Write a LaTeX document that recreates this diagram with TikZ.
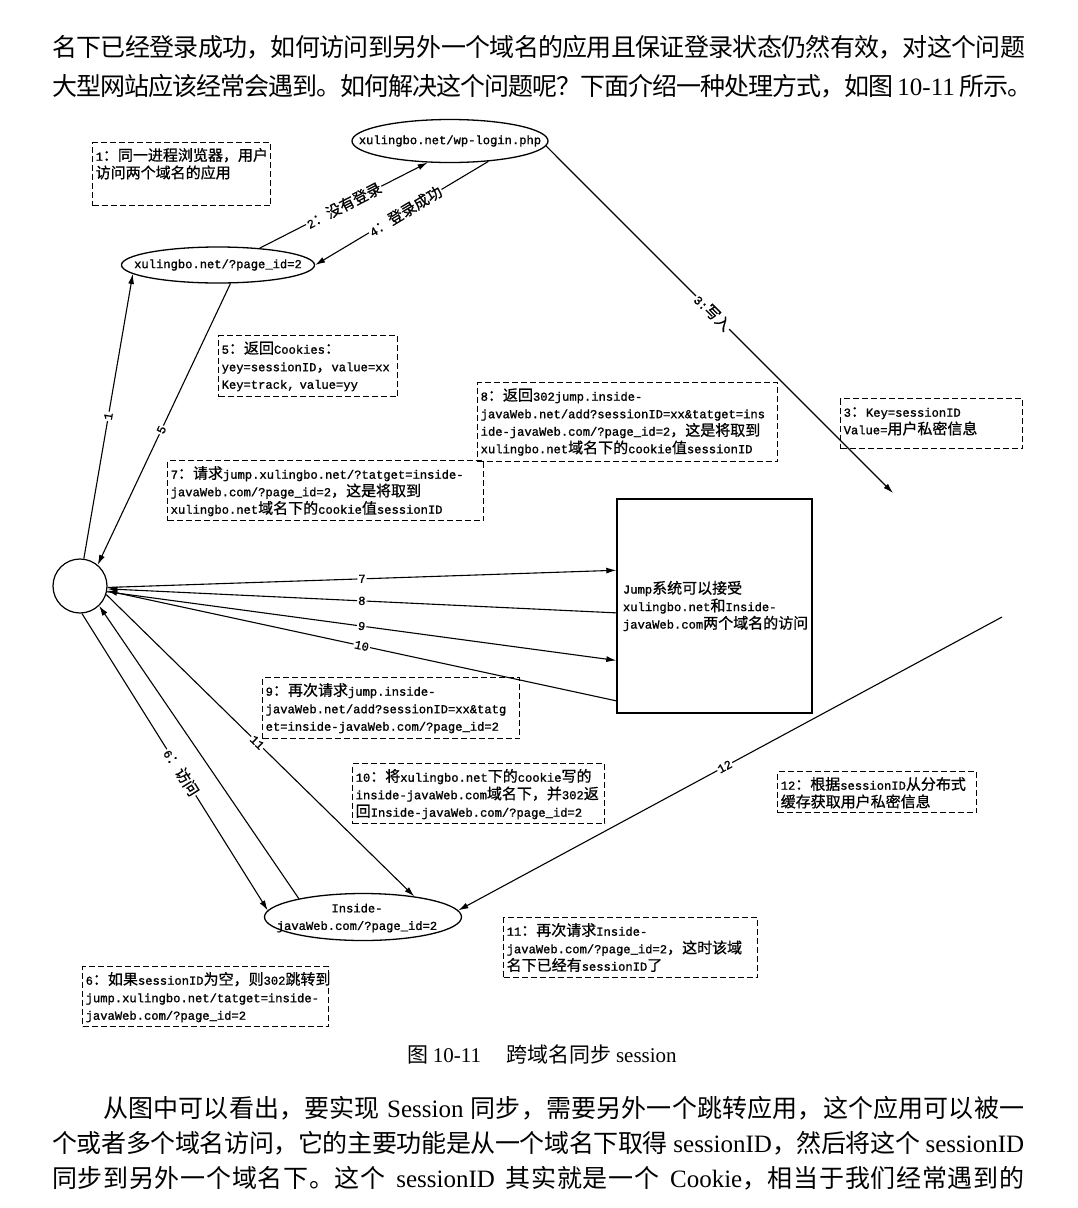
\documentclass[tikz,border=0pt]{standalone}
\usepackage{fontspec}
\usetikzlibrary{arrows.meta,shapes.geometric}

% Fonts: CJK text in Noto Sans CJK, Latin runs switched automatically
\newfontfamily\cjkfam{Noto Sans CJK SC}
\newfontfamily\cjkdia[FakeBold=0.8]{Noto Sans CJK SC}
\newfontfamily\serifLat{Liberation Serif}
\newfontfamily\monoLat[Scale=0.81,FakeBold=1.2]{Liberation Mono}
\newcommand\LatSw{\monoLat}
\newcommand\CJKSw{\cjkdia}
\newcommand\CJKglue{}
\newcount\cpcount
\newXeTeXintercharclass\CJKcls
\newcommand\setCJKrange[2]{\cpcount=#1\relax
  \loop\XeTeXcharclass\cpcount=\CJKcls\relax
  \ifnum\cpcount<#2\relax\advance\cpcount by 1\relax\repeat}
\setCJKrange{"3000}{"303F}
\setCJKrange{"4E00}{"9FFF}
\setCJKrange{"FF00}{"FFEF}
\XeTeXinterchartoks 0 \CJKcls = {\CJKSw}
\XeTeXinterchartoks 4095 \CJKcls = {\CJKSw}
\XeTeXinterchartoks \CJKcls 0 = {\LatSw}
\XeTeXinterchartoks 4095 0 = {\LatSw}
\XeTeXinterchartoks \CJKcls \CJKcls = {\CJKglue}
\XeTeXinterchartokenstate=1

\newcommand\bodyfont{\fontsize{25pt}{30pt}\selectfont
  \def\LatSw{\serifLat}\def\CJKSw{\cjkfam}%
  \def\CJKglue{\hskip 0pt plus 1.5pt minus 1pt}%
  \spaceskip=6.25pt plus 10pt minus 2pt\relax}
\newcommand\capfont{\fontsize{21pt}{25pt}\selectfont
  \def\LatSw{\serifLat}\def\CJKSw{\cjkfam}}
\newcommand\diafont{\fontsize{15pt}{17.5pt}\selectfont
  \exhyphenpenalty=10000\hyphenpenalty=10000\relax}

\tikzset{
  every node/.style={font=\diafont},
  bodyline/.style={anchor=west, inner sep=0pt, font=\bodyfont},
  note/.style={draw, line width=1.4pt, dash pattern=on 6pt off 3pt,
    anchor=north west, align=left, inner xsep=3pt, inner ysep=5pt, text height=13pt},
  ell/.style={draw, ellipse, line width=1.3pt, inner sep=0pt},
  ellText/.style={align=center, inner sep=0pt},
  conn/.style={line width=1.1pt, -{Latex[length=10pt,width=6pt]}},
  lbl/.style={fill=white, inner sep=1pt, sloped},
}

\begin{document}
\begin{tikzpicture}[x=1pt,y=-1pt]
\fill[white] (0,0) rectangle (1078,1208);
\path[use as bounding box] (0,0) rectangle (1078,1208);

% running text above the figure
\node[bodyline] (top1) at (52,47) {\hbox to 973pt{名下已经登录成功，如何访问到另外一个域名的应用且保证登录状态仍然有效，对这个问题}};
\node[bodyline] (top2) at (52,86) {\hbox to 973pt{大型网站应该经常会遇到。如何解决这个问题呢？下面介绍一种处理方式，如图 10-11 所示。}};

% application nodes
\node[ell, minimum width=196pt, minimum height=43pt] (wp) at (450,141) {};
\node[ellText] (wpt) at (wp.center) {xulingbo.net/wp-login.php};
\node[ell, minimum width=193pt, minimum height=36pt] (page) at (218,265) {};
\node[ellText] (paget) at (page.center) {xulingbo.net/?page\_id=2};
\node[draw, circle, line width=1.2pt, minimum size=54pt, inner sep=0pt] (browser) at (80,586) {};
\node[draw, line width=1.4pt, minimum width=195pt, minimum height=214pt,
      text width=183pt, inner xsep=6pt, align=left] (jump) at (714.5,606)
  {Jump系统可以接受\\xulingbo.net和Inside-\\javaWeb.com两个域名的访问};
\node[ell, minimum width=197pt, minimum height=47pt] (inside) at (363,917) {};
\node[ellText] (insidet) at (357,918) {Inside-\\javaWeb.com/?page\_id=2};
\coordinate (cacheIn) at (893,493);
\coordinate (cacheOut) at (1002,617);

% explanatory notes
\node[note, text width=172pt, text depth=40pt] (n1) at (92,142)
  {1：同一进程浏览器，用户\\访问两个域名的应用};
\node[note, text width=173pt, text depth=38pt] (n5) at (218,335)
  {5：返回Cookies：\\yey=sessionID，value=xx\\Key=track, value=yy};
\node[note, text width=294pt, text depth=56pt] (n8) at (477,382)
  {8：返回302jump.inside-\\javaWeb.net/add?sessionID=xx\&tatget=ins\\ide-javaWeb.com/?page\_id=2，这是将取到\\xulingbo.net域名下的cookie值sessionID};
\node[note, text width=310pt, text depth=37pt] (n7) at (167,460)
  {7：请求jump.xulingbo.net/?tatget=inside-\\javaWeb.com/?page\_id=2，这是将取到\\xulingbo.net域名下的cookie值sessionID};
\node[note, text width=176pt, text depth=27pt] (n3) at (840,398)
  {3：Key=sessionID\\Value=用户私密信息};
\node[note, text width=251pt, text depth=38pt] (n9) at (262,677)
  {9：再次请求jump.inside-\\javaWeb.net/add?sessionID=xx\&tatg\\et=inside-javaWeb.com/?page\_id=2};
\node[note, text width=246pt, text depth=37pt] (n10) at (352,763)
  {10：将xulingbo.net下的cookie写的\\inside-javaWeb.com域名下，并302返\\回Inside-javaWeb.com/?page\_id=2};
\node[note, text width=193pt, text depth=18pt] (n12) at (777,771)
  {12：根据sessionID从分布式\\缓存获取用户私密信息};
\node[note, text width=248pt, text depth=37pt] (n11) at (503,917)
  {11：再次请求Inside-\\javaWeb.com/?page\_id=2，这时该域\\名下已经有sessionID了};
\node[note, text width=240pt, text depth=37pt] (n6) at (82,966)
  {6：如果sessionID为空，则302跳转到\\jump.xulingbo.net/tatget=inside-\\javaWeb.com/?page\_id=2};

% connectors
\draw[conn] (browser.82) -- node[lbl, pos=0.5] (l1) {1} (page.186);
\draw[conn] (page.-56) -- node[lbl, pos=0.52] (l5) {5} (browser.50);
\draw[conn] (page.22) -- node[lbl, pos=0.5] (l2) {2：没有登录} (wp.224);
\draw[conn] (wp.-28) -- node[lbl, pos=0.48] (l4) {4：登录成功} (page.east);
\draw[conn] (wp.-3) -- node[lbl, pos=0.48] (l3) {3:写入} (cacheIn);
\draw[conn] (browser.-3) -- node[lbl, pos=0.5] (l7) {7} (jump.160.8);
\draw[conn] (jump.184.7) -- node[lbl, pos=0.5] (l8) {8} (browser.-6);
\draw[conn] (browser.-12) -- node[lbl, pos=0.5] (l9) {9} (jump.209.9);
\draw[conn] (jump.224.6) -- node[lbl, pos=0.5] (l10) {10} (browser.-10);
\draw[conn] (cacheOut) -- node[lbl, pos=0.51] (l12) {12} (inside.4);
\draw[conn] (browser.-86) -- node[lbl, pos=0.535] (l6) {6：访问} (inside.176);
\draw[conn] (inside.164) -- (browser.-46);
\draw[conn] (browser.-18) -- node[lbl, pos=0.49] (l11) {11} (inside.22);

% caption and running text below the figure
\node[font=\capfont, inner sep=0pt] (cap) at (542,1055) {图 10-11\hspace{1.2em}跨域名同步 session};
\node[bodyline] (bot1) at (103,1108) {\hbox to 921pt{从图中可以看出，要实现 Session 同步，需要另外一个跳转应用，这个应用可以被一}};
\node[bodyline] (bot2) at (52,1143) {\hbox to 972pt{个或者多个域名访问，它的主要功能是从一个域名下取得 sessionID，然后将这个 sessionID}};
\node[bodyline] (bot3) at (52,1178) {\hbox to 972pt{同步到另外一个域名下。这个 sessionID 其实就是一个 Cookie，相当于我们经常遇到的}};
\end{tikzpicture}
\end{document}
